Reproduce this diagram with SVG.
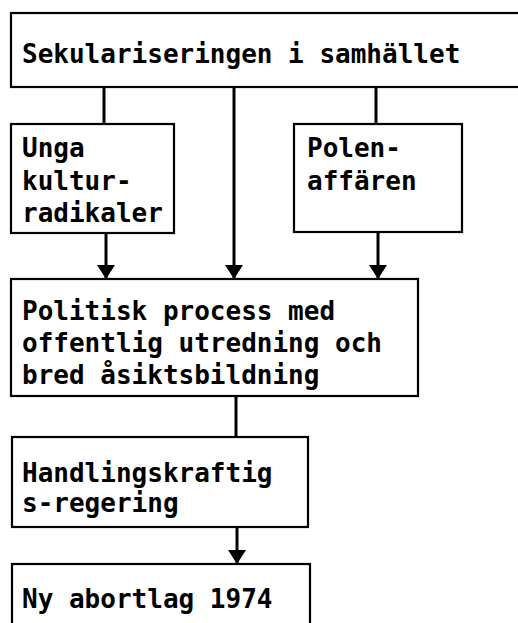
<svg xmlns="http://www.w3.org/2000/svg" width="518" height="623" viewBox="0 0 518 623">
<style>
.box{fill:#fff;stroke:#000;stroke-width:2.2}
.t{font-family:"DejaVu Sans Mono","Liberation Mono",monospace;font-weight:bold;font-size:26px;fill:#000}
.c{stroke:#000;stroke-width:3;fill:none}
</style>
<defs>
<marker id="ad" markerUnits="userSpaceOnUse" markerWidth="20" markerHeight="16" viewBox="0 0 20 16" refX="9" refY="15">
<path d="M0,1 L18,1 L9,15 z" fill="#000"/>
</marker>
</defs>
<rect width="518" height="623" fill="#fff"/>
<g id="connectors">
<line class="c" x1="104" y1="87" x2="104" y2="124"/>
<line class="c" x1="376" y1="87" x2="376" y2="124"/>
<line class="c" x1="234" y1="87" x2="234" y2="279" marker-end="url(#ad)"/>
<line class="c" x1="106" y1="233" x2="106" y2="279" marker-end="url(#ad)"/>
<line class="c" x1="378" y1="232" x2="378" y2="279" marker-end="url(#ad)"/>
<line class="c" x1="236" y1="396" x2="236" y2="437"/>
<line class="c" x1="237" y1="527" x2="237" y2="564" marker-end="url(#ad)"/>
</g>
<g id="n1">
<rect class="box" x="11" y="13" width="520" height="74"/>
<text class="t" x="22" y="63">Sekulariseringen i samhället</text>
</g>
<g id="n2">
<rect class="box" x="11" y="124" width="163" height="109"/>
<text class="t" x="22" y="157">Unga</text>
<text class="t" x="22" y="190">kultur-</text>
<text class="t" x="22" y="222">radikaler</text>
</g>
<g id="n3">
<rect class="box" x="294" y="124" width="168" height="108"/>
<text class="t" x="307" y="157">Polen-</text>
<text class="t" x="307" y="190">affären</text>
</g>
<g id="n4">
<rect class="box" x="11" y="279" width="407" height="117"/>
<text class="t" x="22" y="320">Politisk process med</text>
<text class="t" x="22" y="352">offentlig utredning och</text>
<text class="t" x="22" y="384">bred åsiktsbildning</text>
</g>
<g id="n5">
<rect class="box" x="12" y="437" width="296" height="90"/>
<text class="t" x="22" y="482">Handlingskraftig</text>
<text class="t" x="22" y="512">s-regering</text>
</g>
<g id="n6">
<rect class="box" x="12" y="564" width="298" height="80"/>
<text class="t" x="22" y="608">Ny abortlag 1974</text>
</g>
</svg>
